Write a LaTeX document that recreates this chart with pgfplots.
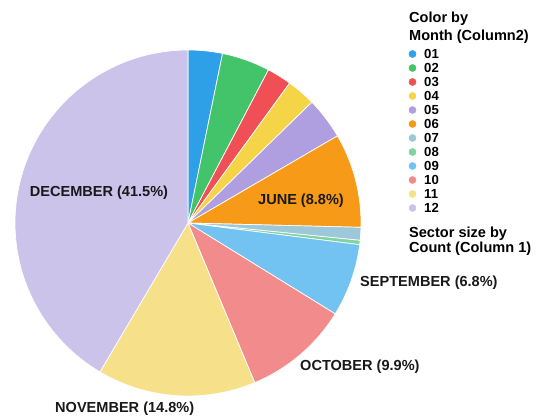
\documentclass[border=0pt]{standalone}
\usepackage{fontspec}
\setmainfont{Liberation Sans}
\usepackage{pgfplots}
\pgfplotsset{compat=1.18}
\definecolor{c01}{HTML}{2DA0E8}
\definecolor{c02}{HTML}{44C46A}
\definecolor{c03}{HTML}{EF4F55}
\definecolor{c04}{HTML}{F5D547}
\definecolor{c05}{HTML}{B09FE0}
\definecolor{c06}{HTML}{F79A17}
\definecolor{c07}{HTML}{9CC8DA}
\definecolor{c08}{HTML}{7ED3A0}
\definecolor{c09}{HTML}{72C2F2}
\definecolor{c10}{HTML}{F28B8B}
\definecolor{c11}{HTML}{F7E08A}
\definecolor{c12}{HTML}{CCC3EB}
\newcommand{\sector}[3]{%
  \addplot[fill=#1, draw=white, line width=0.7pt, domain=#2:#3, samples=80, variable=\t]
    ({188+173*sin(3.6*\t)},{191+173*cos(3.6*\t)}) -- (188,191) -- cycle;}
\tikzset{lg/.style={font=\fontsize{13.2}{14}\selectfont\bfseries, anchor=west, inner sep=0pt},
  pl/.style={font=\fontsize{14.6}{16}\selectfont\bfseries, text=black!90}}
\begin{document}
\begin{tikzpicture}
\begin{axis}[
  scale only axis, width=541bp, height=414bp,
  xmin=0, xmax=541, ymin=0, ymax=414,
  hide axis, clip=false,
]
\path[draw=none] (0,0) rectangle (541,414);
% sectors: domain = cumulative percent start:end (clockwise from top)
\sector{c01}{0}{3.2}
\sector{c02}{3.2}{7.7}
\sector{c03}{7.7}{10.0}
\sector{c04}{10.0}{12.7}
\sector{c05}{12.7}{16.6}
\sector{c06}{16.6}{25.4}
\sector{c07}{25.4}{26.6}
\sector{c08}{26.6}{27.0}
\sector{c09}{27.0}{33.8}
\sector{c10}{33.8}{43.7}
\sector{c11}{43.7}{58.5}
\sector{c12}{58.5}{100}
% pie labels
\node[pl] at (99,221) {DECEMBER (41.5\%)};
\node[pl] at (301,213) {JUNE (8.8\%)};
\node[pl, anchor=west, inner sep=0pt] at (360,131) {SEPTEMBER (6.8\%)};
\node[pl, anchor=west, inner sep=0pt] at (300,47) {OCTOBER (9.9\%)};
\node[pl, anchor=west, inner sep=0pt] at (55,5) {NOVEMBER (14.8\%)};
% legend
\node[font=\fontsize{14.6}{18}\selectfont\bfseries, anchor=north west, inner sep=0pt, align=left] at (409,402) {Color by\\Month (Column2)};
\node[font=\fontsize{14.6}{15}\selectfont\bfseries, anchor=north west, inner sep=0pt, align=left] at (409,187) {Sector size by\\Count (Column 1)};
\addplot[only marks, mark=*, mark size=3.6pt, mark options={draw=none}, scatter, point meta=explicit symbolic,
  scatter/classes={a={c01},b={c02},c={c03},d={c04},e={c05},f={c06},g={c07},h={c08},i={c09},j={c10},k={c11},l={c12}}]
  coordinates {(412.5,360)[a] (412.5,346)[b] (412.5,332)[c] (412.5,318)[d] (412.5,304)[e] (412.5,290)[f]
               (412.5,276)[g] (412.5,262)[h] (412.5,248)[i] (412.5,234)[j] (412.5,220)[k] (412.5,206)[l]};
\node[lg] at (424,360) {01};
\node[lg] at (424,346) {02};
\node[lg] at (424,332) {03};
\node[lg] at (424,318) {04};
\node[lg] at (424,304) {05};
\node[lg] at (424,290) {06};
\node[lg] at (424,276) {07};
\node[lg] at (424,262) {08};
\node[lg] at (424,248) {09};
\node[lg] at (424,234) {10};
\node[lg] at (424,220) {11};
\node[lg] at (424,206) {12};
\end{axis}
\end{tikzpicture}
\end{document}
